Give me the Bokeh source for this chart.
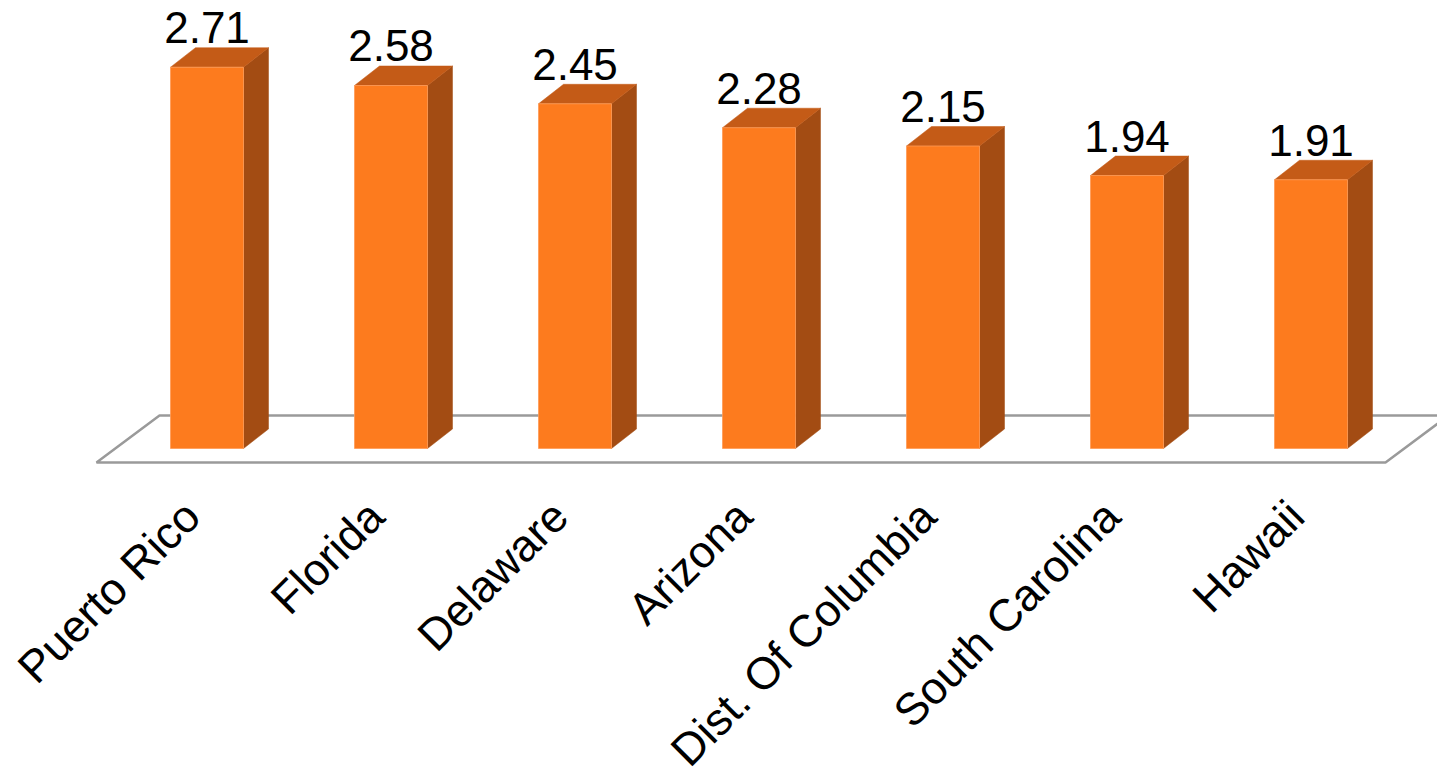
import math
from bokeh.plotting import figure
from bokeh.models import ColumnDataSource, Range1d
from bokeh.core.properties import value
from bokeh.embed import file_html
from bokeh.resources import INLINE

# ---- data ----
states = ["Puerto Rico", "Florida", "Delaware", "Arizona", "Dist. Of Columbia", "South Carolina", "Hawaii"]
values = [2.71, 2.58, 2.45, 2.28, 2.15, 1.94, 1.91]
value_labels = ["2.71", "2.58", "2.45", "2.28", "2.15", "1.94", "1.91"]

# ---- layout / style ----
W, H = 1437, 767
PX_X = 184.0      # px per category
PX_Y = 140.7      # px per value unit
X0_PX = 206.5     # px of first bar centre
Y0_PX = 448.0     # px (from top) of value 0

FRONT = "#FD7B1E"
SIDE = "#A34C13"
TOP = "#C45B17"
FLOOR = "#9A9A9A"
FONT = "Liberation Sans"

bw = 73 / PX_X
dx = 25 / PX_X
dy = 19.5 / PX_Y

p = figure(width=W, height=H, output_backend="svg", toolbar_location=None,
           x_range=Range1d(-X0_PX / PX_X, (W - X0_PX) / PX_X),
           y_range=Range1d(-(H - Y0_PX) / PX_Y, Y0_PX / PX_Y),
           min_border=0, outline_line_color=None, background_fill_color="white")
p.axis.visible = False
p.grid.visible = False

n = len(states)
xs = list(range(n))

# floor
f_front = -14 / PX_Y
f_back = f_front + 47 / PX_Y
fx_l = -110.5 / PX_X
fx_r = (n - 1) + 74.5 / PX_X
fdx = 63 / PX_X
p.patch([fx_l, fx_r, fx_r + fdx, fx_l + fdx], [f_front, f_front, f_back, f_back],
        fill_color="white", line_color=FLOOR, line_width=2.5)

# bars
front_x, front_y, side_x, side_y, top_x, top_y = [], [], [], [], [], []
for x, v in zip(xs, values):
    l, r = x - bw / 2, x + bw / 2
    front_x.append([l, r, r, l]); front_y.append([0, 0, v, v])
    side_x.append([r, r + dx, r + dx, r]); side_y.append([0, dy, v + dy, v])
    top_x.append([l, r, r + dx, l + dx]); top_y.append([v, v, v + dy, v + dy])

p.patches(side_x, side_y, fill_color=SIDE, line_color=SIDE, line_width=0.5)
p.patches(top_x, top_y, fill_color=TOP, line_color=TOP, line_width=0.5)
p.patches(front_x, front_y, fill_color=FRONT, line_color="#FF9A55", line_width=0.8)

# value labels
src = ColumnDataSource(dict(x=xs, y=[v + dy + 20 / PX_Y for v in values], t=value_labels))
p.text(x="x", y="y", text="t", source=src, text_align="center", text_baseline="alphabetic",
       text_font=value(FONT), text_font_size="44px", text_color="black")

# category labels
csrc = ColumnDataSource(dict(x=[x - 15 / PX_X for x in xs], y=[-60 / PX_Y] * n, t=states))
p.text(x="x", y="y", text="t", source=csrc, angle=math.pi / 4, text_align="right",
       text_baseline="middle", text_font=value(FONT), text_font_size="45px", text_color="black")

open("out.html", "w").write(file_html(p, INLINE))
